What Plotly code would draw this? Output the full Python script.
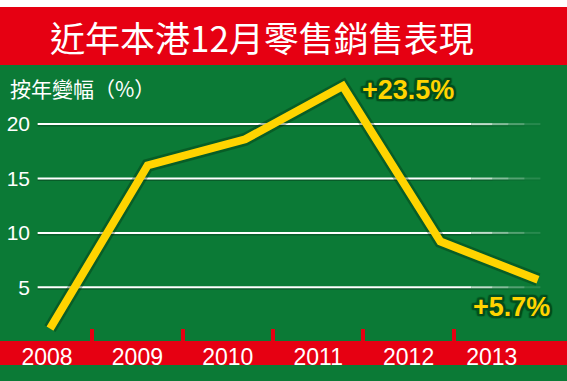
import plotly.graph_objects as go

# ---- data ----
years = [2008, 2009, 2010, 2011, 2012, 2013]
growth = [1.2, 16.2, 18.6, 23.5, 9.2, 5.7]
year_labels = ["2008", "2009", "2010", "2011", "2012", "2013"]
label_pos = [0, 1, 2, 3, 4, 4.92]
sep_pos = [0.5, 1.5, 2.5, 3.5, 4.5]
y_ticks = [5, 10, 15, 20]
title_text = "近年本港12月零售銷售表現"
ytitle_text = "按年變幅（%）"
callouts = [("+23.5%", 2011, 23.5, "left", 17, -4), ("+5.7%", 2013, 5.7, "center", -27, -27)]

GREEN = "#0b7a36"
RED = "#e60012"
YELLOW = "#ffd400"
H = 381.0

fig = go.Figure()

# line shadow
fig.add_trace(go.Scatter(x=years, y=growth, mode="lines",
                         line=dict(color="rgba(0,40,10,0.35)", width=13),
                         hoverinfo="skip", showlegend=False))
fig.add_trace(go.Scatter(x=years, y=growth, mode="lines",
                         line=dict(color=YELLOW, width=8),
                         hoverinfo="skip", showlegend=False))

# dummy trace on label axis
fig.add_trace(go.Scatter(x=label_pos, y=[None]*len(label_pos), xaxis="x2",
                         mode="markers", showlegend=False, hoverinfo="skip"))

shapes = []
# white top strip
shapes.append(dict(type="rect", xref="paper", yref="paper", x0=-0.2, x1=1.2,
                   y0=1 - 7 / H, y1=1.01, fillcolor="white", line_width=0, layer="below"))
# red title bar
shapes.append(dict(type="rect", xref="paper", yref="paper", x0=-0.2, x1=1.2,
                   y0=1 - 65 / H, y1=1 - 7 / H, fillcolor=RED, line_width=0, layer="below"))
# red bottom band
shapes.append(dict(type="rect", xref="paper", yref="paper", x0=-0.2, x1=1.2,
                   y0=1 - 365 / H, y1=1 - 341 / H, fillcolor=RED, line_width=0, layer="below"))

# fading grid lines
fade = [(0.005, 0.82, 1.0), (0.82, 0.86, 0.75), (0.86, 0.89, 0.5), (0.89, 0.92, 0.3), (0.92, 0.95, 0.12)]
for t in y_ticks:
    for a, b, op in fade:
        shapes.append(dict(type="line", xref="paper", yref="y", x0=a, x1=b, y0=t - 0.14, y1=t - 0.14,
                           line=dict(color="rgba(0,0,0,%.2f)" % (0.25 * op), width=2), layer="below"))
        shapes.append(dict(type="line", xref="paper", yref="y", x0=a, x1=b, y0=t, y1=t,
                           line=dict(color="rgba(255,255,255,%.2f)" % op, width=2), layer="below"))

annotations = [
    dict(text=title_text, xref="paper", yref="paper", x=(262 - 35) / 532.0, y=1 - 36 / H,
         showarrow=False, xanchor="center", yanchor="middle",
         font=dict(family="Noto Sans CJK TC", size=35, color="white")),
    dict(text=ytitle_text, xref="paper", yref="paper", x=-27 / 532.0, y=1 - 88 / H,
         showarrow=False, xanchor="left", yanchor="middle",
         font=dict(family="Noto Sans CJK TC", size=21, color="white")),
]
outline = "#06501f"
shadow = ", ".join("%dpx %dpx 1px %s" % (dx, dy, outline)
                   for dx in (-2, -1, 0, 1, 2) for dy in (-2, -1, 0, 1, 2) if (dx, dy) != (0, 0))
for txt, xv, yv, anc, xs, ys in callouts:
    annotations.append(dict(text="<b>%s</b>" % txt, x=xv, y=yv, xref="x", yref="y",
                            showarrow=False, xanchor=anc, yanchor="middle", xshift=xs, yshift=ys,
                            font=dict(family="Liberation Sans", size=27, color=YELLOW, shadow=shadow)))

fig.update_layout(
    width=567, height=381,
    margin=dict(l=35, r=0, t=0, b=0),
    paper_bgcolor=GREEN, plot_bgcolor=GREEN,
    showlegend=False,
    shapes=shapes,
    annotations=annotations,
    xaxis=dict(range=[2008 - 15 / 97.6, 2008 + 517 / 97.6], visible=False, showgrid=False,
               zeroline=False),
    xaxis2=dict(overlaying="x", anchor="free", position=1 - 342 / H, side="bottom",
                range=[-12 / 90.4, 520 / 90.4], tickvals=label_pos, ticktext=year_labels,
                ticks="", showgrid=False, zeroline=False, showline=False,
                tickfont=dict(family="Liberation Sans", size=23, color="white"),
                ticklabelstandoff=-1,
                minor=dict(tickvals=sep_pos, ticks="inside", ticklen=13, tickwidth=4,
                           tickcolor=RED, showgrid=False)),
    yaxis=dict(range=[-(H - 341.7) / 10.88, 341.7 / 10.88], tickvals=y_ticks,
               showgrid=False, zeroline=False, showline=False, ticks="",
               tickfont=dict(family="Liberation Sans", size=21, color="white"),
               ticklabelstandoff=4),
)

fig.write_html("out.html")
